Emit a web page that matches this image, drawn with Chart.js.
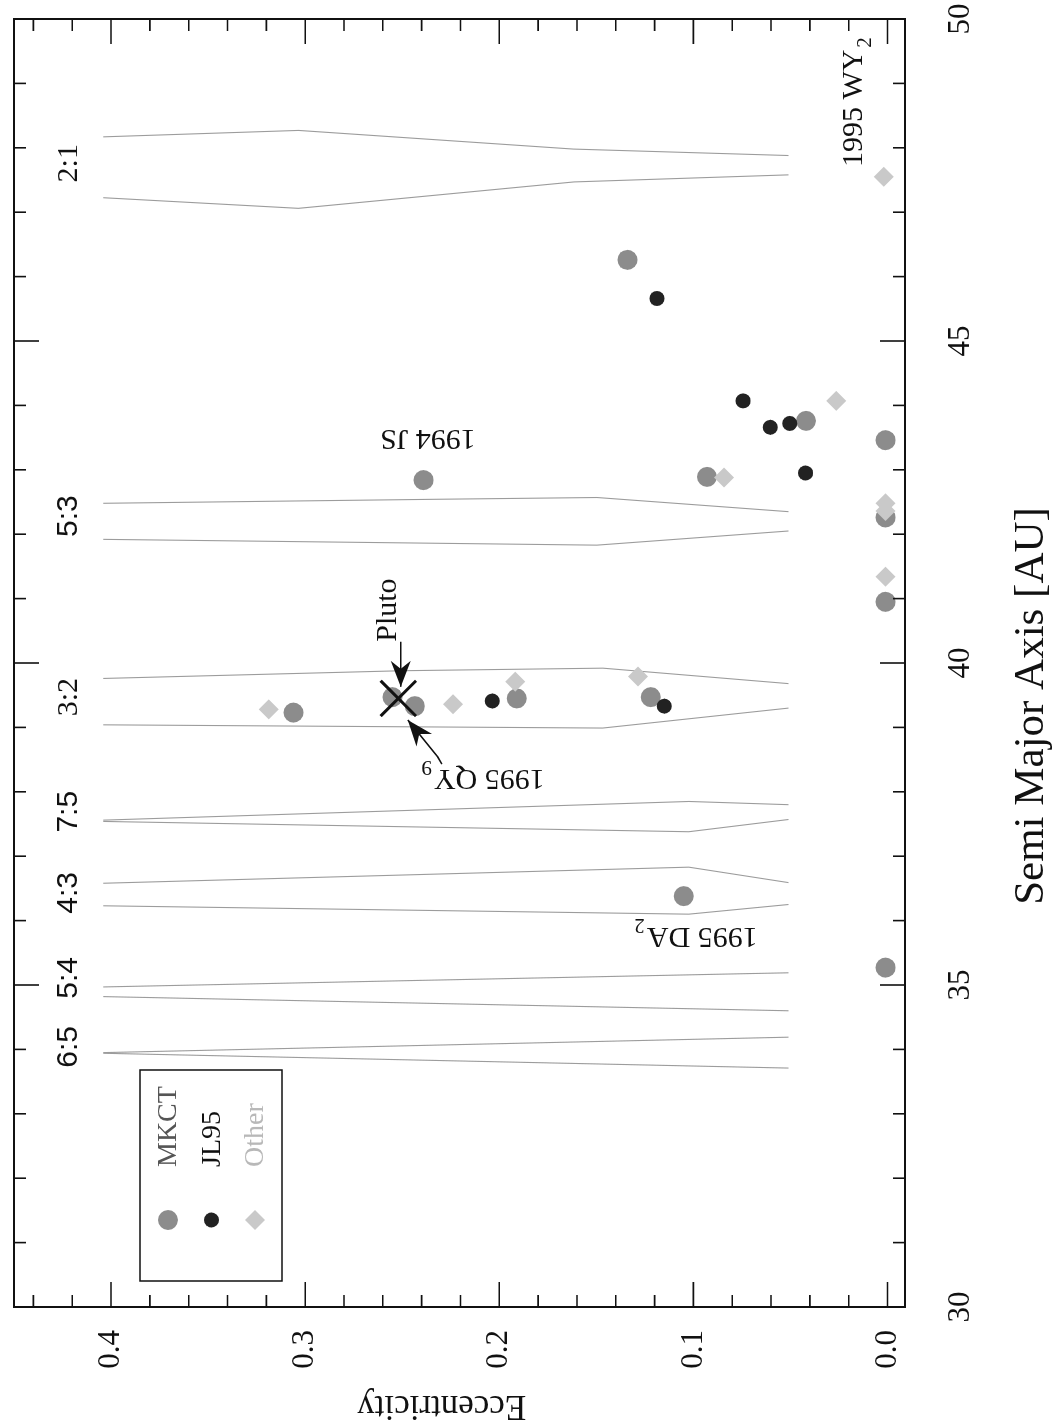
<!DOCTYPE html>
<html>
<head>
<meta charset="utf-8">
<script src="https://cdn.jsdelivr.net/npm/chart.js@4.4.0/dist/chart.umd.min.js"></script>
<style>
    html, body { margin: 0; padding: 0; background: #fff; overflow: hidden; }
    /* the figure is drawn upright and turned a quarter turn, like the scanned page */
    #wrap {
        position: absolute; left: 0; top: 0;
        width: 1427px; height: 1059px;
        transform-origin: 0 0;
        transform: translate(0, 1427px) rotate(-90deg);
    }
</style>
</head>
<body>
<div id="wrap"><canvas id="chart" width="1427" height="1059"></canvas></div>
<script>

// objects: semi major axis [AU] and eccentricity
const mkctA = [46.26, 43.76, 43.46, 42.84, 42.89, 42.26, 40.95, 39.47, 39.33, 39.23, 39.45, 39.47, 36.38, 35.27];
const mkctE = [0.134, 0.042, 0.001, 0.239, 0.093, 0.001, 0.001, 0.255, 0.2435, 0.306, 0.191, 0.122, 0.105, 0.001];

const jlA = [45.66, 44.07, 43.66, 43.72, 42.95, 39.41, 39.33];
const jlE = [0.1188, 0.0744, 0.0604, 0.0504, 0.0422, 0.2036, 0.115];

const otherA = [47.55, 44.07, 42.88, 42.48, 42.36, 41.34, 39.28, 39.36, 39.71, 39.79];
const otherE = [0.002, 0.0264, 0.0842, 0.001, 0.001, 0.001, 0.3188, 0.2239, 0.1918, 0.1285];

const plutoA = [39.45];
const plutoE = [0.252];

// resonance zone boundaries (eccentricity, semi major axis)
const ecc21 = [0.404, 0.3035, 0.1616, 0.051];
const a21in = [47.225, 47.06, 47.47, 47.58];
const a21out = [48.17, 48.27, 47.98, 47.88];

const ecc53out = [0.404, 0.239, 0.1498, 0.051];
const a53out = [42.48, 42.54, 42.57, 42.35];
const ecc53in = [0.404, 0.1498, 0.051];
const a53in = [41.92, 41.83, 42.05];

const ecc32out = [0.404, 0.2502, 0.1467, 0.051];
const a32out = [39.76, 39.88, 39.92, 39.68];
const ecc32in = [0.404, 0.1467, 0.051];
const a32in = [39.04, 38.99, 39.30];

const ecc3pt = [0.404, 0.1024, 0.051];
const a75out = [37.56, 37.85, 37.80];
const a75in = [37.54, 37.38, 37.57];
const a43out = [36.58, 36.83, 36.59];
const a43in = [36.23, 36.10, 36.25];

const ecc2pt = [0.404, 0.051];
const a54out = [34.97, 35.19];
const a54in = [34.82, 34.60];
const a65out = [33.95, 34.19];
const a65in = [33.94, 33.71];

const resNames = ["6:5", "5:4", "4:3", "7:5", "3:2", "5:3", "2:1"];
const resLabelA = [34.04, 35.11, 36.43, 37.69, 39.47, 42.28, 47.76];
const resLabelE = 0.4175;

const legendNames = ["MKCT", "JL95", "Other"];

const xMajor = 5;     // labelled every 5 AU
const yMajor = 0.1;   // labelled every 0.1

const SERIF = '"Liberation Serif", "Times New Roman", serif';
const SANS = '"Liberation Sans", Arial, sans-serif';

function pts(as, es) {
    return as.map((a, i) => ({ x: a, y: es[i] }));
}

function zone(as, es) {
    return {
        data: pts(as, es),
        showLine: true,
        pointRadius: 0,
        borderColor: "#9c9c9c",
        borderWidth: 1.1,
        fill: false,
        order: 10
    };
}

// text notes, anchored in data units
const notes = [
    { text: "1995 WY", sub: "2", a: 47.70, e: 0.0129, rot: 0 },
    { text: "Pluto", sub: "", a: 40.33, e: 0.2533, rot: 0 },
    { text: "1994 JS", sub: "", a: 43.62, e: 0.2121, rot: -Math.PI / 2 },
    { text: "1995 QY", sub: "9", a: 38.34, e: 0.1766, rot: -Math.PI / 2 },
    { text: "1995 DA", sub: "2", a: 35.885, e: 0.0669, rot: -Math.PI / 2 }
];

const arrows = [
    [[40.33, 0.2508], [39.63, 0.2508]],
    [[38.43, 0.2296], [38.54, 0.2317], [39.115, 0.2471]]
];

function isMult(v, step) {
    const q = v / step;
    return Math.abs(q - Math.round(q)) < 1e-6;
}

function drawNote(ctx, x, y, n) {
    ctx.save();
    ctx.translate(x, y);
    ctx.rotate(n.rot);
    ctx.fillStyle = "#111";
    ctx.textAlign = "left";
    ctx.textBaseline = "alphabetic";
    ctx.font = "30px " + SERIF;
    ctx.fillText(n.text, 0, 0);
    if (n.sub) {
        const w = ctx.measureText(n.text).width;
        ctx.font = "21px " + SERIF;
        ctx.fillText(n.sub, w + 2, 9);
    }
    ctx.restore();
}

function drawArrow(ctx, p) {
    ctx.save();
    ctx.strokeStyle = "#111";
    ctx.fillStyle = "#111";
    ctx.lineWidth = 1.6;
    ctx.beginPath();
    ctx.moveTo(p[0][0], p[0][1]);
    for (let i = 1; i < p.length; i++) ctx.lineTo(p[i][0], p[i][1]);
    ctx.stroke();

    const tip = p[p.length - 1];
    const prev = p[p.length - 2];
    const ang = Math.atan2(tip[1] - prev[1], tip[0] - prev[0]);
    ctx.translate(tip[0], tip[1]);
    ctx.rotate(ang);
    ctx.beginPath();
    ctx.moveTo(0, 0);
    ctx.lineTo(-26, -10);
    ctx.lineTo(-18, 0);
    ctx.lineTo(-26, 10);
    ctx.closePath();
    ctx.fill();
    ctx.restore();
}

const figurePlugin = {
    id: "figure",
    afterDraw(chart) {
        const ctx = chart.ctx;
        const ca = chart.chartArea;
        const xs = chart.scales.x;
        const ys = chart.scales.y;
        const w = ca.right - ca.left;
        const h = ca.bottom - ca.top;

        ctx.save();

        // frame and inward ticks on all four sides
        ctx.strokeStyle = "#111";
        ctx.lineWidth = 2;
        ctx.strokeRect(ca.left, ca.top, w, h);

        ctx.lineWidth = 1.6;
        ctx.beginPath();
        xs.ticks.forEach(t => {
            const px = xs.getPixelForValue(t.value);
            const len = isMult(t.value, xMajor) ? 25 : 12;
            ctx.moveTo(px, ca.bottom); ctx.lineTo(px, ca.bottom - len);
            ctx.moveTo(px, ca.top); ctx.lineTo(px, ca.top + len);
        });
        ys.ticks.forEach(t => {
            const py = ys.getPixelForValue(t.value);
            const len = isMult(t.value, yMajor) ? 25 : 12;
            ctx.moveTo(ca.left, py); ctx.lineTo(ca.left + len, py);
            ctx.moveTo(ca.right, py); ctx.lineTo(ca.right - len, py);
        });
        ctx.stroke();

        // resonance names along the top
        ctx.fillStyle = "#111";
        ctx.textAlign = "center";
        ctx.textBaseline = "alphabetic";
        resNames.forEach((name, i) => {
            const serif = name === "3:2" || name === "2:1";
            ctx.font = "30px " + (serif ? SERIF : SANS);
            ctx.fillText(name, xs.getPixelForValue(resLabelA[i]), ys.getPixelForValue(resLabelE));
        });

        // notes and arrows
        notes.forEach(n => drawNote(ctx, xs.getPixelForValue(n.a), ys.getPixelForValue(n.e), n));
        arrows.forEach(a => drawArrow(ctx, a.map(q => [xs.getPixelForValue(q[0]), ys.getPixelForValue(q[1])])));

        // legend box
        const lx = ca.left + 26;
        const ly = ca.top + 126;
        ctx.lineWidth = 1.5;
        ctx.strokeRect(lx, ly, 211, 142);
        const textColors = ["#555", "#111", "#b8b8b8"];
        legendNames.forEach((name, i) => {
            const ds = chart.data.datasets[i];
            const cy = ly + 28 + i * 43.5;
            ctx.fillStyle = ds.backgroundColor;
            Chart.helpers.drawPoint(ctx, {
                pointStyle: ds.pointStyle,
                radius: ds.pointRadius,
                rotation: 0,
                borderWidth: 0
            }, lx + 61, cy);
            ctx.fillStyle = textColors[i];
            ctx.font = "28px " + SERIF;
            ctx.textAlign = "left";
            ctx.textBaseline = "middle";
            ctx.fillText(name, lx + 114, cy + 1);
        });

        // axis titles
        ctx.fillStyle = "#111";
        ctx.textAlign = "center";
        ctx.textBaseline = "middle";
        ctx.font = "43px " + SERIF;
        ctx.fillText("Semi Major Axis [AU]", ca.left + 0.4666 * w, ca.bottom + 127);

        ctx.save();
        ctx.translate(ca.left - 98, ca.top + 0.48 * h);
        ctx.rotate(-Math.PI / 2);
        ctx.font = "35px " + SERIF;
        ctx.fillText("Eccentricity", 0, 0);
        ctx.restore();

        ctx.restore();
    }
};

Chart.defaults.font.family = SERIF;
Chart.defaults.color = "#111";

new Chart(document.getElementById("chart"), {
    type: "scatter",
    data: {
        datasets: [
            {
                label: "MKCT",
                data: pts(mkctA, mkctE),
                backgroundColor: "#8c8c8c",
                pointStyle: "circle",
                pointRadius: 10,
                pointBorderWidth: 0,
                order: 3
            },
            {
                label: "JL95",
                data: pts(jlA, jlE),
                backgroundColor: "#222",
                pointStyle: "circle",
                pointRadius: 7.5,
                pointBorderWidth: 0,
                order: 2
            },
            {
                label: "Other",
                data: pts(otherA, otherE),
                backgroundColor: "#c9c9c9",
                pointStyle: "rectRot",
                pointRadius: 10,
                pointBorderWidth: 0,
                order: 1
            },
            {
                label: "Pluto",
                data: pts(plutoA, plutoE),
                pointStyle: "crossRot",
                pointRadius: 25,
                borderColor: "#111",
                pointBorderWidth: 3,
                order: 0
            },
            zone(a21in, ecc21), zone(a21out, ecc21),
            zone(a53in, ecc53in), zone(a53out, ecc53out),
            zone(a32in, ecc32in), zone(a32out, ecc32out),
            zone(a75in, ecc3pt), zone(a75out, ecc3pt),
            zone(a43in, ecc3pt), zone(a43out, ecc3pt),
            zone(a54in, ecc2pt), zone(a54out, ecc2pt),
            zone(a65in, ecc2pt), zone(a65out, ecc2pt)
        ]
    },
    options: {
        responsive: false,
        animation: false,
        devicePixelRatio: 1,
        layout: {
            autoPadding: false,
            padding: { top: 14, right: 19, left: 0, bottom: 0 }
        },
        plugins: {
            legend: { display: false },
            tooltip: { enabled: false }
        },
        scales: {
            x: {
                type: "linear",
                min: 30,
                max: 50,
                grid: { display: false, drawTicks: false },
                border: { display: false },
                ticks: {
                    stepSize: 1,
                    autoSkip: false,
                    maxRotation: 0,
                    padding: 37,
                    font: { size: 31 },
                    callback: v => isMult(v, xMajor) ? String(Math.round(v)) : ""
                },
                afterFit: s => {
                    s.height = 154;
                    s.paddingLeft = 0;
                    s.paddingRight = 0;
                }
            },
            y: {
                type: "linear",
                min: -0.009,
                max: 0.45,
                grid: { display: false, drawTicks: false },
                border: { display: false },
                ticks: {
                    stepSize: 0.02,
                    includeBounds: false,
                    autoSkip: false,
                    padding: 23,
                    font: { size: 31 },
                    callback: v => isMult(v, yMajor) ? (Math.round(v * 10) / 10).toFixed(1) : ""
                },
                afterFit: s => {
                    s.width = 120;
                    s.paddingTop = 0;
                    s.paddingBottom = 0;
                }
            }
        }
    },
    plugins: [figurePlugin]
});
</script>
</body>
</html>
